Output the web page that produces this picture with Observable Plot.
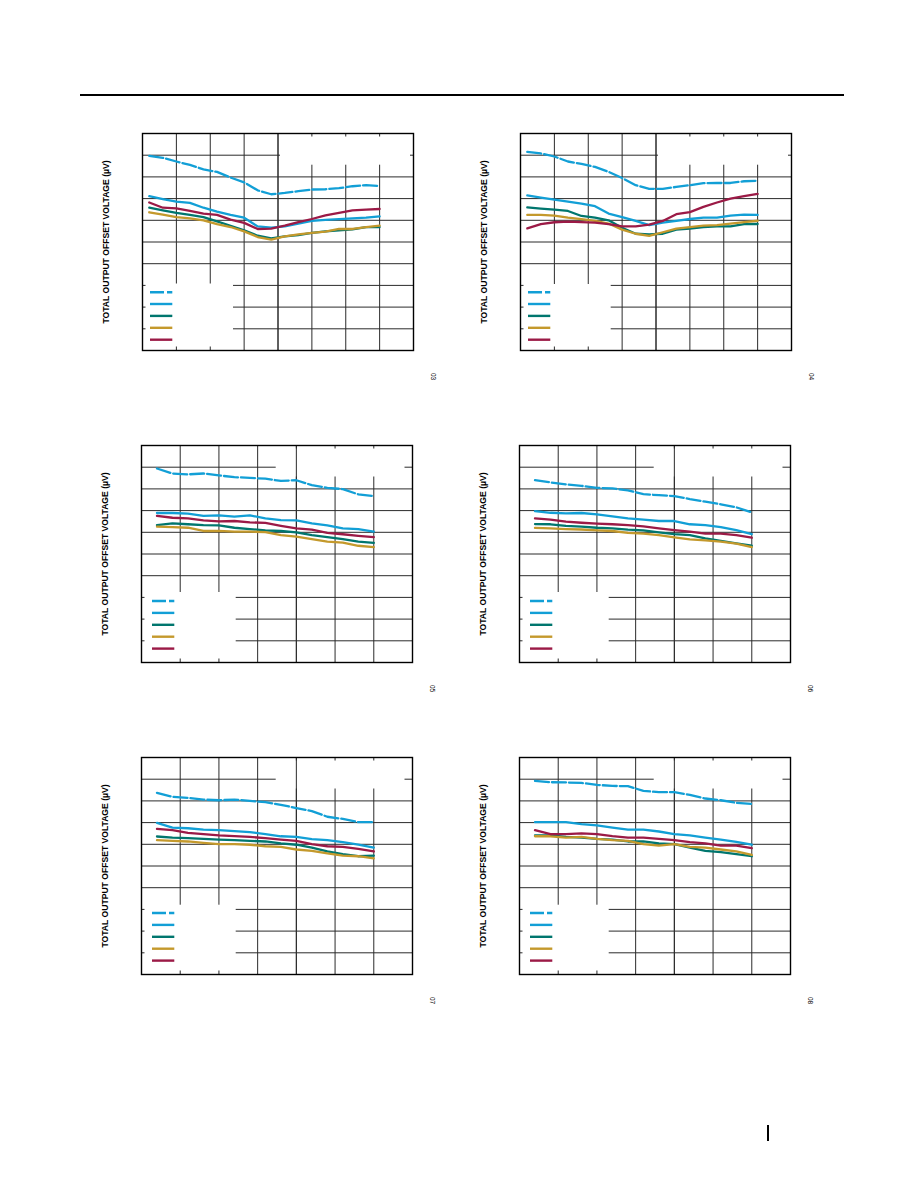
<!DOCTYPE html>
<html>
<head>
<meta charset="utf-8">
<script src="https://cdn.jsdelivr.net/npm/d3@7"></script>
<script src="https://cdn.jsdelivr.net/npm/@observablehq/plot@0.6"></script>
<style>
  html, body { margin: 0; padding: 0; background: #fff; }
  #page { position: relative; width: 918px; height: 1188px; overflow: hidden; background: #fff; }
  .chart { position: absolute; }
  #headRule { position: absolute; left: 80px; top: 94px; width: 764px; height: 2px; background: #000; }
  #footBar { position: absolute; left: 767px; top: 1125px; width: 2px; height: 16px; background: #000; }
</style>
</head>
<body>
<div id="page">
  <div id="headRule"></div>
  <div id="footBar"></div>
</div>
<script>
// ---------- data ----------
const tempsWide = [-45,-35,-25,-15,-5,5,15,25,35,45,55,65,75,85,95,105,115,125];
const tempsNarrow = [-40,-30,-20,-10,0,10,20,30,40,50,60,70,80,90,100];

const xTicksWide = [-50,-25,0,25,50,75,100,125,150];
const xTicksNarrow = [-50,-25,0,25,50,75,100,125];
const yTicks = [-50,-40,-30,-20,-10,0,10,20,30,40,50];

// Figure 03
const f1A = [39.7,38.8,37.1,35.5,33.5,32.3,29.7,27.5,23.8,22.0,22.6,23.4,24.2,24.3,24.8,25.7,26.2,25.8];
const f1B = [21.1,19.8,18.6,18.0,15.8,14.0,12.5,11.2,7.2,6.6,7.2,8.5,9.7,10.2,10.5,10.9,11.2,11.8];
const f1C = [15.8,14.6,13.4,12.5,11.5,9.5,7.5,5.4,2.9,1.7,2.6,3.2,4.2,4.9,5.4,5.8,6.9,6.9];
const f1D = [13.7,12.6,11.5,10.9,10.0,8.2,6.9,4.9,2.3,1.1,2.6,3.5,4.2,4.8,6.0,6.0,6.9,7.5];
const f1E = [18.2,15.8,15.5,14.3,13.1,12.5,10.3,8.8,6.0,6.2,7.5,9.2,10.6,12.3,13.4,14.6,14.9,15.2];
// Figure 04
const f2A = [41.5,40.8,39.4,37.1,36.0,34.6,32.3,29.5,26.2,24.5,24.5,25.4,26.2,27.1,27.2,27.2,28.0,28.2];
const f2B = [21.5,20.5,19.5,18.6,17.7,16.5,13.1,11.5,9.7,7.8,8.9,9.7,10.6,11.2,11.2,12.2,12.6,12.5];
const f2C = [16.0,15.4,14.9,14.3,12.0,11.2,10.0,6.6,3.8,3.5,3.8,5.7,6.2,6.9,7.2,7.2,8.2,8.3];
const f2D = [12.5,12.5,12.2,11.2,10.5,9.7,8.5,5.7,3.8,2.8,4.5,6.2,6.9,7.5,7.8,8.5,9.2,9.8];
const f2E = [6.3,8.2,9.1,9.4,9.2,8.9,8.2,7.2,7.2,8.0,9.7,12.8,13.8,16.2,18.2,20.0,21.1,22.2];
// Figure 05
const f3A = [39.4,37.1,36.7,37.1,36.2,35.4,35.1,34.7,33.7,34.0,31.7,30.5,29.9,27.5,26.7];
const f3B = [18.9,18.9,18.6,17.6,17.8,17.2,17.8,16.4,15.6,15.5,14.1,13.2,11.8,11.5,10.3];
const f3C = [13.3,14.1,13.7,13.3,13.2,12.1,11.5,10.9,10.6,10.0,8.7,7.8,6.9,5.7,5.1];
const f3D = [12.6,12.4,12.1,10.6,10.7,10.3,10.3,10.1,8.7,8.0,6.9,5.7,5.2,3.8,3.2];
const f3E = [17.6,16.7,16.4,15.5,15.0,15.2,14.6,14.3,13.0,11.8,11.2,9.7,9.1,8.4,7.8];
// Figure 06
const f4A = [34.0,33.0,32.1,31.4,30.5,30.2,29.3,27.6,27.1,26.7,25.3,24.1,22.9,21.5,19.2];
const f4B = [19.8,19.0,18.7,18.9,18.3,17.3,16.4,15.8,15.2,15.2,13.7,13.3,12.4,11.0,9.2];
const f4C = [13.8,13.7,13.0,12.6,12.1,11.8,11.2,10.9,10.0,9.2,8.7,7.2,6.0,4.9,3.8];
const f4D = [12.0,11.8,11.5,11.3,10.9,10.6,9.7,9.4,8.7,7.7,6.7,6.3,5.7,4.8,3.2];
const f4E = [16.4,15.8,14.9,14.4,14.0,13.7,13.3,12.7,11.8,11.0,10.3,9.4,9.4,8.7,7.5];
// Figure 07
const f5A = [33.7,31.9,31.4,30.6,30.3,30.6,30.0,29.4,28.2,26.7,25.3,22.7,21.7,20.2,20.2];
const f5B = [19.9,17.7,17.4,16.8,16.5,16.1,15.6,14.7,13.7,13.4,12.4,11.9,11.0,9.8,8.5];
const f5C = [13.6,13.1,12.8,12.5,12.2,11.9,11.6,11.3,10.4,9.8,8.5,6.7,5.5,4.5,4.8];
const f5D = [11.9,11.6,11.3,10.7,10.1,10.1,9.8,9.1,8.8,7.6,7.0,5.8,4.8,4.5,3.5];
const f5E = [17.1,16.5,15.3,14.7,14.1,13.8,13.4,12.8,12.2,11.6,10.1,9.1,8.8,7.9,6.7];
// Figure 08
const f6A = [39.2,38.6,38.5,38.3,37.4,36.9,36.8,34.6,34.0,34.0,32.8,31.1,30.3,29.1,28.6];
const f6B = [20.2,20.2,20.2,19.3,18.7,17.7,16.8,16.8,15.9,14.7,14.1,13.1,12.2,11.1,9.8];
const f6C = [14.1,14.1,13.4,13.1,12.5,12.2,11.3,11.3,10.4,10.1,8.5,7.0,6.4,5.5,4.5];
const f6D = [13.7,13.7,13.1,13.4,12.5,11.9,11.6,10.1,9.4,10.1,8.8,8.5,7.6,6.7,5.1];
const f6E = [16.5,14.7,14.7,15.0,14.7,13.8,13.1,13.1,12.5,11.9,11.0,10.4,9.4,9.4,8.2];

const yTitle = "TOTAL OUTPUT OFFSET VOLTAGE (µV)";
const figNumbers = ["03","04","05","06","07","08"];

// ---------- styles / layout ----------
const seriesColors = ["#129fd6", "#129fd6", "#00766e", "#c4992c", "#9b1a46"];
const seriesDash = ["14,3", null, null, null, null];
const FW = 271, FH = 217;               // frame size in px
const ML = 46, MR = 30, MT = 6, MB = 36; // margins
const TICK = 3.5;

const wideLayout = {
  xDomain: [-50, 150], xTicks: xTicksWide, temps: tempsWide,
  legendX: [8, 30.3], legendRows: [158.7, 170.5, 182.4, 194.3, 206.2],
  topBox: [138, 268, 31.7]
};
const narrowLayout = {
  xDomain: [-50, 125], xTicks: xTicksNarrow, temps: tempsNarrow,
  legendX: [11, 33.3], legendRows: [155.5, 167.4, 179.3, 191.2, 203.1],
  topBox: [134.7, 263.5, 31.5]
};

const charts = [
  {left: 142.3, top: 133.3, L: wideLayout,   legBox: [91, 150.5],  series: [f1A,f1B,f1C,f1D,f1E]},
  {left: 520.3, top: 133.3, L: wideLayout,   legBox: [90.7, 151],  series: [f2A,f2B,f2C,f2D,f2E]},
  {left: 141.3, top: 445.3, L: narrowLayout, legBox: [94.7, 147],  series: [f3A,f3B,f3C,f3D,f3E]},
  {left: 519.3, top: 445.3, L: narrowLayout, legBox: [89.7, 147],  series: [f4A,f4B,f4C,f4D,f4E]},
  {left: 141.3, top: 757.3, L: narrowLayout, legBox: [94.7, 147.7], series: [f5A,f5B,f5C,f5D,f5E]},
  {left: 519.3, top: 757.3, L: narrowLayout, legBox: [89.7, 147.7], series: [f6A,f6B,f6C,f6D,f6E]}
];

const yDomain = [-50, 50];
const page = document.getElementById("page");

charts.forEach((c, ci) => {
  const xd = c.L.xDomain;
  const px2x = p => xd[0] + p / FW * (xd[1] - xd[0]);
  const px2y = p => yDomain[1] - p / FH * (yDomain[1] - yDomain[0]);

  const topBox = [{x1: px2x(c.L.topBox[0]), x2: px2x(c.L.topBox[1]), y1: px2y(c.L.topBox[2]), y2: px2y(TICK)}];
  const legBox = [{x1: px2x(TICK), x2: px2x(c.legBox[0]), y1: px2y(FH - TICK), y2: px2y(c.legBox[1])}];
  const legendRows = c.L.legendRows.map((r, i) => ({y: px2y(r), x1: px2x(c.L.legendX[0]), x2: px2x(c.L.legendX[1]), i}));

  const marks = [
    Plot.ruleX(c.L.xTicks, {stroke: "#2b2b2b", strokeWidth: 1}),
    Plot.ruleY(yTicks, {stroke: "#2b2b2b", strokeWidth: 1}),
    Plot.rect(topBox, {x1: "x1", x2: "x2", y1: "y1", y2: "y2", fill: "white"}),
    Plot.rect(legBox, {x1: "x1", x2: "x2", y1: "y1", y2: "y2", fill: "white"}),
    Plot.ruleX([50], {stroke: "#2b2b2b", strokeWidth: 1}),
    Plot.frame({stroke: "#000", strokeWidth: 1.4})
  ];

  // legend samples
  legendRows.forEach(r => {
    marks.push(Plot.ruleY([r], {
      y: "y", x1: "x1", x2: "x2",
      stroke: seriesColors[r.i], strokeWidth: 2.4,
      strokeDasharray: seriesDash[r.i] || undefined
    }));
  });

  // data lines
  c.series.forEach((vals, si) => {
    const rows = vals.map((v, k) => ({t: c.L.temps[k], v}));
    marks.push(Plot.line(rows, {
      x: "t", y: "v", stroke: seriesColors[si], strokeWidth: 2.3,
      strokeDasharray: seriesDash[si] || undefined,
      strokeLinejoin: "round"
    }));
  });

  // y title
  marks.push(Plot.text([yTitle], {
    frameAnchor: "left", dx: -36, rotate: -90, text: d => d,
    textAnchor: "middle", lineAnchor: "middle",
    fontSize: 8.6, fontWeight: "bold", fill: "#000"
  }));
  // figure number
  marks.push(Plot.text([figNumbers[ci]], {
    frameAnchor: "bottom-right", dx: 20, dy: 26, rotate: 90, text: d => d,
    textAnchor: "middle", lineAnchor: "middle", fontSize: 6.5, fill: "#000"
  }));

  const svg = Plot.plot({
    width: ML + FW + MR,
    height: MT + FH + MB,
    marginLeft: ML, marginRight: MR, marginTop: MT, marginBottom: MB,
    x: {domain: xd, axis: null},
    y: {domain: yDomain, axis: null},
    style: {fontFamily: "'Liberation Sans', Arial, sans-serif", background: "transparent", overflow: "visible"},
    marks
  });
  const wrap = document.createElement("div");
  wrap.className = "chart";
  wrap.style.left = (c.left - ML) + "px";
  wrap.style.top = (c.top - MT) + "px";
  wrap.appendChild(svg);
  page.appendChild(wrap);
});
</script>
</body>
</html>
